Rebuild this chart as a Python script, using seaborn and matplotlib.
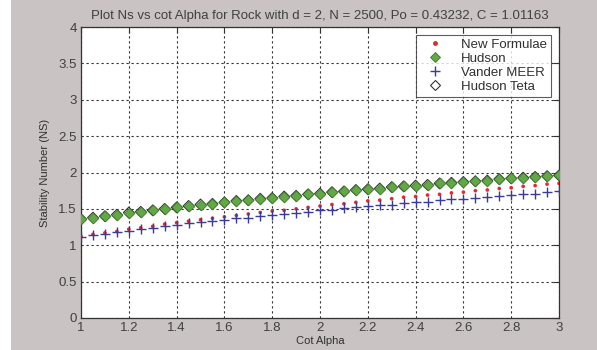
import matplotlib
matplotlib.use("Agg")
import matplotlib.pyplot as plt
import seaborn as sns
import numpy as np
import pandas as pd
from matplotlib.lines import Line2D
from matplotlib.patches import Rectangle

cot_alpha = [1.00, 1.05, 1.10, 1.15, 1.20, 1.25, 1.30, 1.35, 1.40, 1.45,
             1.50, 1.55, 1.60, 1.65, 1.70, 1.75, 1.80, 1.85, 1.90, 1.95,
             2.00, 2.05, 2.10, 2.15, 2.20, 2.25, 2.30, 2.35, 2.40, 2.45,
             2.50, 2.55, 2.60, 2.65, 2.70, 2.75, 2.80, 2.85, 2.90, 2.95, 3.00]

new_formulae = [1.12, 1.15, 1.17, 1.19, 1.22, 1.24, 1.26, 1.29, 1.31, 1.33,
                1.35, 1.37, 1.39, 1.41, 1.43, 1.45, 1.47, 1.48, 1.50, 1.52,
                1.54, 1.56, 1.57, 1.59, 1.61, 1.62, 1.64, 1.66, 1.67, 1.69,
                1.70, 1.72, 1.73, 1.75, 1.76, 1.78, 1.79, 1.81, 1.82, 1.84, 1.85]

hudson = [1.36, 1.38, 1.40, 1.42, 1.45, 1.46, 1.48, 1.50, 1.52, 1.54,
          1.56, 1.57, 1.59, 1.61, 1.62, 1.64, 1.65, 1.67, 1.68, 1.70,
          1.71, 1.73, 1.74, 1.76, 1.77, 1.78, 1.80, 1.81, 1.82, 1.83,
          1.85, 1.86, 1.87, 1.88, 1.89, 1.91, 1.92, 1.93, 1.94, 1.95, 1.96]

vander_meer = [1.12, 1.14, 1.16, 1.18, 1.20, 1.22, 1.24, 1.26, 1.28, 1.30,
               1.32, 1.33, 1.35, 1.37, 1.38, 1.40, 1.42, 1.43, 1.45, 1.46,
               1.48, 1.49, 1.51, 1.52, 1.54, 1.55, 1.56, 1.58, 1.59, 1.60,
               1.62, 1.63, 1.64, 1.65, 1.67, 1.68, 1.69, 1.70, 1.71, 1.73, 1.74]

hudson_teta = list(hudson)

series_names = ["New Formulae", "Hudson", "Vander MEER", "Hudson Teta"]
x_ticks = [1, 1.2, 1.4, 1.6, 1.8, 2, 2.2, 2.4, 2.6, 2.8, 3]
x_tick_labels = ["1", "1.2", "1.4", "1.6", "1.8", "2", "2.2", "2.4", "2.6", "2.8", "3"]
y_ticks = [0, 0.5, 1, 1.5, 2, 2.5, 3, 3.5, 4]
y_tick_labels = ["0", "0.5", "1", "1.5", "2", "2.5", "3", "3.5", "4"]

df = pd.DataFrame({
    "x": cot_alpha,
    "new": new_formulae,
    "hudson": hudson,
    "vander": vander_meer,
    "teta": hudson_teta,
})

sns.set_style("white")
plt.rcParams["font.family"] = ["Liberation Sans", "DejaVu Sans"]

BG = "#c9c3c3"
fig = plt.figure(figsize=(5.97, 3.5), dpi=100, facecolor=BG)
fig.patches.append(Rectangle((0, 0), 11 / 597, 1, transform=fig.transFigure,
                             facecolor="white", edgecolor="none", zorder=-1))
ax = fig.add_axes([81 / 597, 1 - 318 / 350, (559 - 81) / 597, (318 - 27) / 350])
ax.set_facecolor("white")

red = "#e8282a"
green = "#62a845"
green_edge = "#3f7a2e"
blue = "#3a3a9a"

sns.scatterplot(data=df, x="x", y="teta", ax=ax, marker="D", s=30,
                facecolor="none", edgecolor="#333333", linewidth=0.8, zorder=3)
sns.scatterplot(data=df, x="x", y="new", ax=ax, marker="o", s=7,
                color=red, edgecolor="none", zorder=4)
sns.scatterplot(data=df, x="x", y="vander", ax=ax, marker="+", s=48,
                color=blue, linewidth=1.0, zorder=5)
sns.scatterplot(data=df, x="x", y="hudson", ax=ax, marker="D", s=30,
                color=green, edgecolor=green_edge, linewidth=0.6, zorder=6)

ax.set_xlim(1, 3)
ax.set_ylim(0, 4)
ax.set_xticks(x_ticks)
ax.set_xticklabels(x_tick_labels)
ax.set_yticks(y_ticks)
ax.set_yticklabels(y_tick_labels)

ax.grid(True, color="#333333", linestyle=(0, (2, 2.5)), linewidth=0.8)
ax.set_axisbelow(True)
for sp in ax.spines.values():
    sp.set_visible(True)
    sp.set_color("#333333")
    sp.set_linewidth(0.9)
ax.tick_params(direction="in", length=4, width=0.8, colors="#333333",
               top=True, right=True, labelsize=9.5, labelcolor="#404040", pad=3)

ax.set_xlabel("Cot Alpha", fontsize=8, color="#303030", labelpad=1)
ax.set_ylabel("Stability Number (NS)", fontsize=8, color="#303030", labelpad=6)
ax.set_title("Plot Ns vs cot Alpha for Rock with d = 2, N = 2500, Po = 0.43232, C = 1.01163",
             fontsize=9.5, color="#404040", pad=6)

handles = [
    Line2D([], [], linestyle="none", marker="o", markersize=2.5, color=red),
    Line2D([], [], linestyle="none", marker="D", markersize=5, color=green,
           markeredgecolor=green_edge, markeredgewidth=0.6),
    Line2D([], [], linestyle="none", marker="+", markersize=7, color=blue,
           markeredgewidth=1.0),
    Line2D([], [], linestyle="none", marker="D", markersize=5,
           markerfacecolor="none", markeredgecolor="#333333", markeredgewidth=0.8),
]
leg = ax.legend(handles, series_names, loc="upper right", fontsize=9.5,
                frameon=True, fancybox=False, edgecolor="#333333",
                borderpad=0.3, labelspacing=0.12, handletextpad=0.9,
                handlelength=2.2, borderaxespad=0.6)
leg.get_frame().set_linewidth(0.8)
for t in leg.get_texts():
    t.set_color("#303030")

fig.savefig("out.png", dpi=100, facecolor=BG)
